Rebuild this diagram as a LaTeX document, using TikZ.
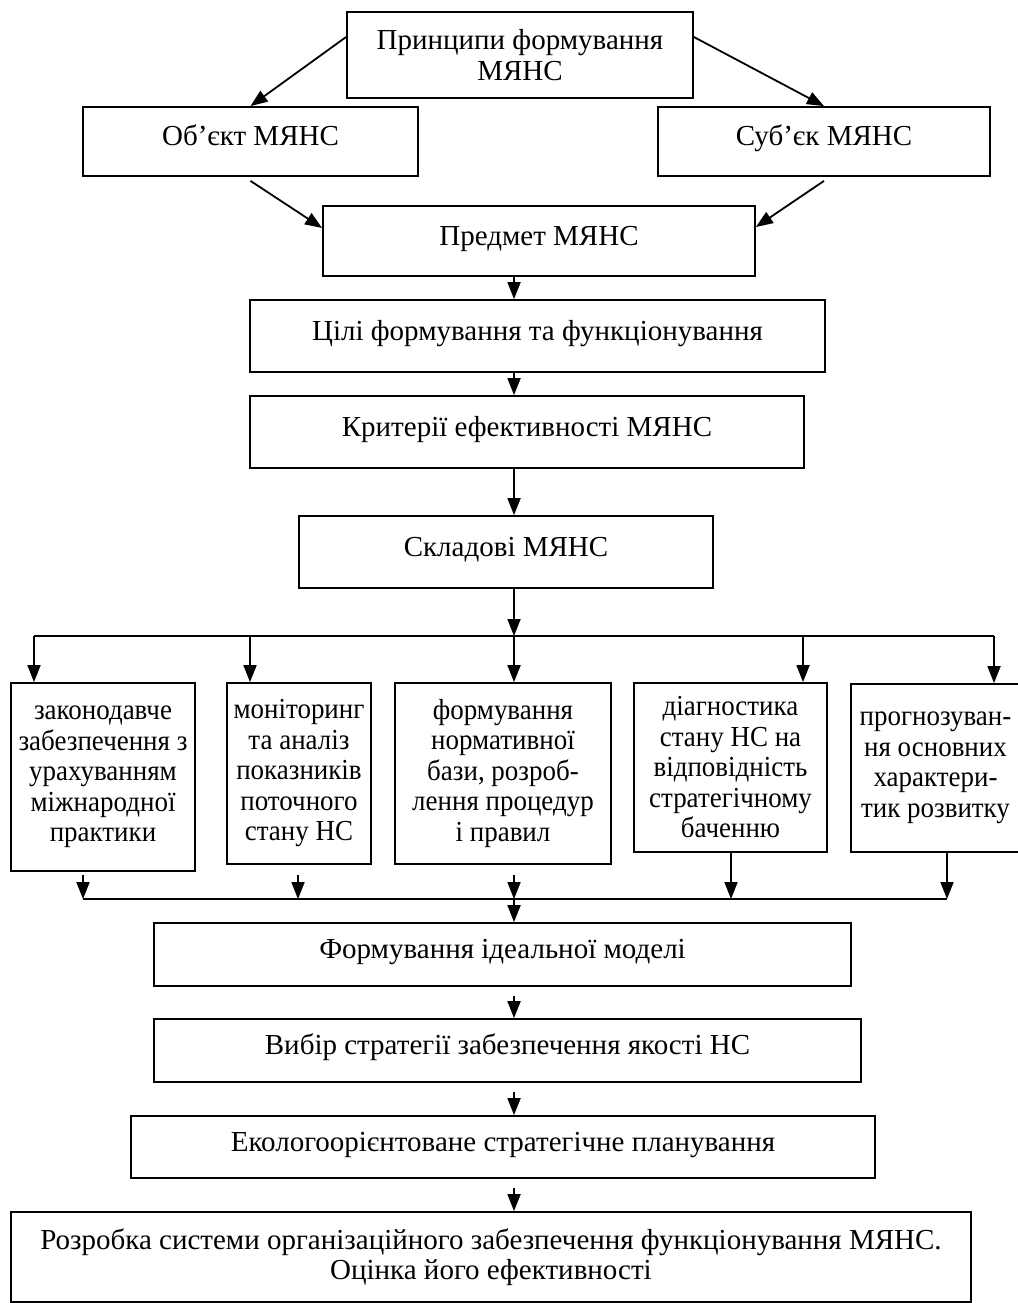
\documentclass[tikz,border=0pt]{standalone}
\usepackage{fontspec}
\setmainfont{Liberation Serif}
\newfontfamily\narrowfont{Liberation Serif}[FakeStretch=0.93]
\usepackage{tikz}
\usetikzlibrary{arrows.meta}

\begin{document}
\begin{tikzpicture}[x=1pt,y=-1pt,
                line width=1.8pt,
                box/.style={draw,rectangle,inner sep=0pt,align=center,
                    font=\fontsize{29pt}{30.5pt}\selectfont},
                onebox/.style={box,text height=20pt,text depth=12pt},
                tallbox/.style={box,font=\narrowfont\fontsize{29pt}{30.5pt}\selectfont},
                arr/.style={-{Triangle[length=17pt,width=13pt]}}
            ]
                \useasboundingbox (0,0) rectangle (1017,1303);
                \node[box,minimum width=346pt,minimum height=86pt] (princ) at (520,55) {Принципи формування\\МЯНС};
                \node[onebox,minimum width=335pt,minimum height=69pt] (obj) at (250.5,141.5) {Об’єкт МЯНС};
                \node[onebox,minimum width=332pt,minimum height=69pt] (subj) at (824,141.5) {Суб’єк МЯНС};
                \node[onebox,minimum width=432pt,minimum height=70pt] (pred) at (539,241) {Предмет МЯНС};
                \node[onebox,minimum width=575pt,minimum height=72pt] (goal) at (537.5,336) {Цілі формування та функціонування};
                \node[onebox,minimum width=554pt,minimum height=72pt] (crit) at (527,432) {Критерії ефективності МЯНС};
                \node[onebox,minimum width=414pt,minimum height=72pt] (skl) at (506,552) {Складові МЯНС};
                \node[tallbox,minimum width=184pt,minimum height=188pt] (zak) at (103,777) {законодавче\\забезпечення з\\урахуванням\\міжнародної\\практики};
                \node[tallbox,minimum width=144pt,minimum height=181pt] (mon) at (299,773.5) {моніторинг\\та аналіз\\показників\\поточного\\стану НС};
                \node[tallbox,minimum width=216pt,minimum height=181pt] (form) at (503,773.5) {формування\\нормативної\\бази, розроб-\\лення процедур\\і правил};
                \node[tallbox,minimum width=193pt,minimum height=169pt] (diag) at (730.5,767.5) {діагностика\\стану НС на\\відповідність\\стратегічному\\баченню};
                \node[tallbox,minimum width=169pt,minimum height=168pt] (prog) at (935.5,768) {прогнозуван-\\ня основних\\характери-\\тик розвитку};
                \node[onebox,minimum width=697pt,minimum height=63pt] (ideal) at (502.5,954.5) {Формування ідеальної моделі};
                \node[onebox,minimum width=707pt,minimum height=63pt] (strat) at (507.5,1050.5) {Вибір стратегії забезпечення якості НС};
                \node[onebox,minimum width=744pt,minimum height=62pt] (plan) at (503,1147) {Екологоорієнтоване стратегічне планування};
                \node[box,minimum width=960pt,minimum height=90pt] (dev) at (491,1257) {Розробка системи організаційного забезпечення функціонування МЯНС.\\Оцінка його ефективності};

                \coordinate (spine) at (514,0);
                \coordinate (gapline) at (0,875);

                \draw[arr] ([yshift=18pt]princ.west) -- (obj.north);
                \draw[arr] ([yshift=18pt]princ.east) -- (subj.north);
                \draw[arr] ([yshift=-4pt]obj.south) -- ([yshift=13pt]pred.west);
                \draw[arr] ([yshift=-4pt]subj.south) -- ([yshift=14pt]pred.east);
                \draw[arr] (pred.south -| spine) -- (goal.north -| spine);
                \draw[arr] (goal.south -| spine) -- (crit.north -| spine);
                \draw[arr] (crit.south -| spine) -- (skl.north -| spine);

                \foreach \n/\x in {zak/34,mon/250,form/514,diag/803,prog/994}{
                    \coordinate (t\n) at (\x,636);
                    \draw[arr] (t\n) -- (t\n |- \n.north);
                }
                \draw (tzak) -- (tprog);
                \draw[arr] (skl.south -| spine) -- (tform);

                \foreach \n/\x in {zak/83,mon/298,form/514}{
                    \coordinate (b\n) at (\x,899);
                    \draw[arr] (b\n |- gapline) -- (b\n);
                }
                \foreach \n/\x in {diag/731,prog/947}{
                    \coordinate (b\n) at (\x,899);
                    \draw[arr] (b\n |- \n.south) -- (b\n);
                }
                \draw (bzak) -- (bprog);
                \draw[arr] (bform) -- (ideal.north -| spine);
                \draw[arr] ([yshift=-9pt]ideal.south -| spine) -- (strat.north -| spine);
                \draw[arr] ([yshift=-9pt]strat.south -| spine) -- (plan.north -| spine);
                \draw[arr] ([yshift=-9pt]plan.south -| spine) -- (dev.north -| spine);
            \end{tikzpicture}
\end{document}
